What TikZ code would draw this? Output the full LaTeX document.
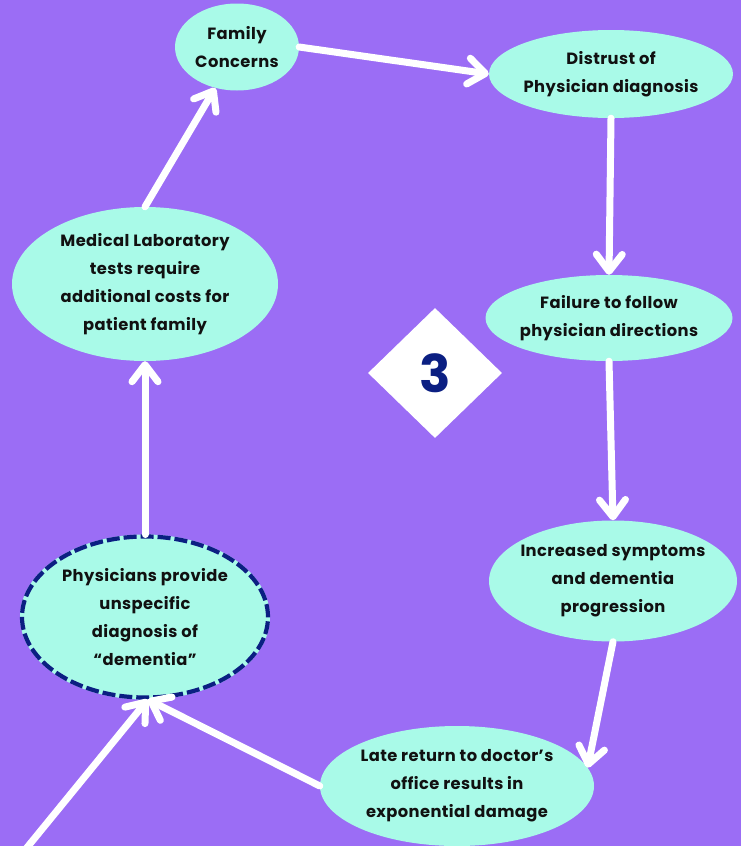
\documentclass[tikz,border=0pt]{standalone}
\usepackage{fontspec}
\setmainfont{Poppins}[UprightFont=*-Bold,BoldFont=*-Bold,LetterSpace=2.5]
\usetikzlibrary{shapes.geometric,arrows.meta}

\definecolor{bgpurple}{HTML}{9B6DF5}
\definecolor{mint}{HTML}{A9FAE8}
\definecolor{navy}{HTML}{0B1F82}
\definecolor{ink}{HTML}{111111}

\tikzset{
  % negative inner sep lets the minimum sizes alone set each ellipse
  bubble/.style={ellipse, fill=mint, inner xsep=-50pt, inner ysep=-30pt,
    align=center, font=\fontsize{16.3}{28}\selectfont, text=ink},
  flow/.style={draw=white, line width=7pt, line cap=round,
    -{Straight Barb[length=17pt,width=26pt,line cap=round,line join=round]}},
}

\begin{document}
\begin{tikzpicture}[x=1pt,y=-1pt]
  % canvas
  \fill[bgpurple] (0,0) rectangle (741,846);
  \useasboundingbox (0,0) rectangle (741,846);

  % statements of the cycle
  \node[bubble, minimum width=124pt, minimum height=87pt] (fam) at (237,47)
    {Family\\Concerns};
  \node[bubble, minimum width=244pt, minimum height=88pt] (dis) at (611,74)
    {Distrust of\\Physician diagnosis};
  \node[bubble, minimum width=247pt, minimum height=86pt] (fail) at (609,318)
    {Failure to follow\\physician directions};
  \node[bubble, minimum width=248pt, minimum height=121pt] (inc) at (613,581)
    {Increased symptoms\\and dementia\\progression};
  \node[bubble, minimum width=274pt, minimum height=120pt] (late) at (457,786)
    {Late return to doctor’s\\office results in\\exponential damage};
  \node[bubble, minimum width=266pt, minimum height=154pt] (lab) at (145,284)
    {Medical Laboratory\\tests require\\additional costs for\\patient family};
  \node[bubble, minimum width=246pt, minimum height=161pt,
        draw=mint, line width=4pt] (phys) at (145,617)
    {Physicians provide\\unspecific\\diagnosis of\\“dementia”};
  % dashed rim of the starting statement
  \draw[navy, line width=4.2pt, dash pattern=on 13pt off 4pt]
    (phys.center) ellipse [x radius=123pt, y radius=80.5pt];

  % stage marker
  \node[diamond, fill=white, minimum width=134pt, minimum height=130pt,
        inner sep=0pt, text=navy, font=\fontsize{52}{52}\selectfont\bfseries]
    (stage) at (435,373) {3};

  % entry point
  \coordinate (entry) at (25,850);

  % connectors
  \draw[flow] (lab.north) -- (fam.242);
  \draw[flow] (fam.east) -- (dis.west);
  \draw[flow] (dis.south) -- (fail.north);
  \draw[flow] (fail.south) -- (inc.north);
  \draw[flow] (inc.south) -- (late.8);
  \draw[flow] (phys.north) -- (lab.south);
  \draw[flow] (late.180) -- (phys.272);
  \draw[flow] (entry) -- (phys.272);
\end{tikzpicture}
\end{document}
